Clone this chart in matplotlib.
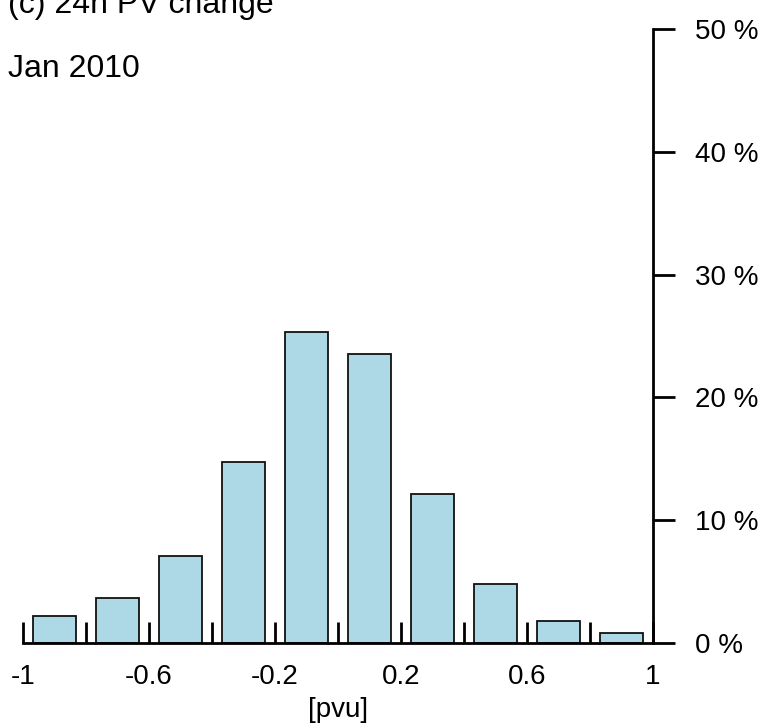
import numpy as np
import matplotlib
matplotlib.use('Agg')
from matplotlib import pyplot as plt

plt.rcParams['font.family'] = ['Liberation Sans', 'DejaVu Sans']

# bin centres [pvu] and relative frequency [%]
centres = [-0.9, -0.7, -0.5, -0.3, -0.1, 0.1, 0.3, 0.5, 0.7, 0.9]
freq = [2.17, 3.66, 7.05, 14.7, 25.3, 23.5, 12.13, 4.78, 1.79, 0.85]
xticks = [-1, -0.8, -0.6, -0.4, -0.2, 0, 0.2, 0.4, 0.6, 0.8, 1]
xlabels = ['-1', '', '-0.6', '', '-0.2', '', '0.2', '', '0.6', '', '1']
yticks = [0, 10, 20, 30, 40, 50]
ylabels = ['0 %', '10 %', '20 %', '30 %', '40 %', '50 %']

fig = plt.figure(figsize=(7.66, 7.26), dpi=100)
ax = fig.add_axes([23/766, 1 - 643/726, 630/766, 614/726])

ax.bar(centres, freq, width=0.135, color='lightblue', edgecolor='#111111',
       linewidth=1.3, zorder=2)

ax.set_xlim(-1, 1)
ax.set_ylim(0, 50)

for s in ['top', 'left']:
    ax.spines[s].set_visible(False)
ax.spines['bottom'].set_linewidth(2)
ax.spines['right'].set_linewidth(2)

ax.set_xticks(xticks)
ax.set_xticklabels(xlabels)
ax.yaxis.tick_right()
ax.set_yticks(yticks)
ax.set_yticklabels(ylabels)

ax.tick_params(axis='x', direction='in', length=15, width=2, pad=15,
               labelsize=20)
ax.tick_params(axis='y', direction='out', length=16, width=2, pad=14,
               labelsize=20)

ax.set_xlabel('[pvu]', fontsize=20, labelpad=5)

fig.text(8/766, 1 - 13/726, '(c) 24h PV change', fontsize=23,
         ha='left', va='baseline')
fig.text(8/766, 1 - 77/726, 'Jan 2010', fontsize=23,
         ha='left', va='baseline')

fig.savefig('out.png', dpi=100)
